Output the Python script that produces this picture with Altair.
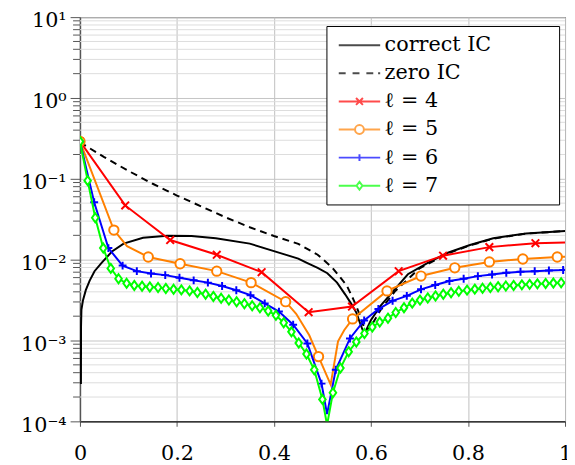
import altair as alt
import pandas as pd

SERIES = ["correct IC", "zero IC", "ℓ = 4", "ℓ = 5", "ℓ = 6", "ℓ = 7"]
COLORS = ["#000000", "#000000", "#ff0000", "#ff8000", "#0000ff", "#00ff00"]

CORRECT_X = [0.002, 0.0022, 0.003, 0.006, 0.012, 0.02, 0.03, 0.045, 0.066, 0.09, 0.13, 0.18, 0.23,
             0.28, 0.35, 0.42, 0.45, 0.47, 0.49, 0.51, 0.53, 0.547, 0.56, 0.57, 0.578, 0.586,
             0.6, 0.62, 0.649, 0.676, 0.717, 0.757, 0.804, 0.852, 0.92, 1.0]
CORRECT_Y = [0.00029, 0.0015, 0.0024, 0.0031, 0.0042, 0.0055, 0.0072, 0.0092, 0.0126, 0.0158,
             0.0187, 0.0198, 0.0196, 0.0184, 0.0158, 0.0117, 0.0103, 0.0090, 0.0079, 0.0068,
             0.0052, 0.0037, 0.0028, 0.0022, 0.0016, 0.0012, 0.0018, 0.0027, 0.0043, 0.0066,
             0.0091, 0.0121, 0.0152, 0.0184, 0.0211, 0.0226]

ZERO_X = [0.0, 0.05, 0.1, 0.15, 0.2, 0.25, 0.3, 0.35, 0.4, 0.45, 0.49, 0.52, 0.55, 0.565,
          0.578, 0.588, 0.6, 0.62, 0.65, 0.7, 0.757, 0.804, 0.852, 0.92, 1.0]
ZERO_Y = [0.2825, 0.1854, 0.1253, 0.0869, 0.0621, 0.0456, 0.0334, 0.0252, 0.0196, 0.0157,
          0.0115, 0.0080, 0.0048, 0.0031, 0.0020, 0.0013, 0.0015, 0.0024, 0.0041, 0.0078,
          0.0119, 0.0150, 0.0182, 0.0210, 0.0226]

L4_X = [0.0, 0.0933, 0.186, 0.282, 0.3745, 0.4714, 0.5608, 0.657, 0.7485, 0.844, 0.939]
L4_Y = [0.29, 0.0469, 0.0175, 0.0115, 0.0070, 0.00224, 0.00263, 0.00721, 0.0112, 0.0143, 0.0160]
L4_LINE_X = [1.0]
L4_LINE_Y = [0.0163]

L5_X = [0.0, 0.0699, 0.1408, 0.2065, 0.282, 0.3528, 0.424, 0.4918, 0.562, 0.633, 0.703,
        0.7727, 0.844, 0.913, 0.984]
L5_Y = [0.29, 0.0232, 0.0108, 0.0089, 0.00721, 0.0052, 0.00302, 0.000632, 0.00185, 0.00411,
        0.00627, 0.00793, 0.00938, 0.0102, 0.0108]
L5_LINE_X = [0.097, 0.4457, 0.4727, 0.5168, 0.532, 0.545, 1.0]
L5_LINE_Y = [0.0147, 0.00214, 0.00116, 0.000285, 0.00098, 0.00135, 0.0109]

L6_X = [0.0, 0.0293, 0.0586, 0.0879, 0.1172, 0.1465, 0.1758, 0.2051, 0.2344, 0.2637, 0.293,
        0.3223, 0.3516, 0.3809, 0.4102, 0.4395, 0.4688, 0.498, 0.5273, 0.5566, 0.5859, 0.6152,
        0.6445, 0.6738, 0.7031, 0.7324, 0.7617, 0.791, 0.8203, 0.8496, 0.8789, 0.9082, 0.9375,
        0.9668, 0.9961]
L6_Y = [0.29, 0.0514, 0.0139, 0.00845, 0.00721, 0.00675, 0.00644, 0.00598, 0.00555, 0.0052,
        0.00473, 0.00419, 0.00364, 0.00288, 0.00228, 0.00157, 0.00092, 0.000293, 0.000435,
        0.00106, 0.00177, 0.00245, 0.0031, 0.00357, 0.0043, 0.00486, 0.00545, 0.0058, 0.00626,
        0.00656, 0.00687, 0.00708, 0.00721, 0.00734, 0.00745]
L6_LINE_X = [0.5094, 1.0]
L6_LINE_Y = [0.000123, 0.0075]

L7_X = [0.0, 0.0158, 0.0315, 0.048, 0.0635, 0.0795, 0.0962, 0.112, 0.128, 0.144, 0.161, 0.177,
        0.193, 0.209, 0.226, 0.242, 0.259, 0.275, 0.291, 0.307, 0.323, 0.339, 0.355, 0.371,
        0.388, 0.404, 0.420, 0.436, 0.451, 0.467, 0.483, 0.4998, 0.5215, 0.537, 0.554, 0.5697,
        0.5865, 0.6027, 0.618, 0.635, 0.651, 0.668, 0.685, 0.701, 0.717, 0.733, 0.749, 0.765,
        0.781, 0.798, 0.814, 0.83, 0.846, 0.862, 0.878, 0.894, 0.911, 0.927, 0.943, 0.96,
        0.976, 0.992]
L7_Y = [0.29, 0.095, 0.033, 0.0139, 0.0078, 0.0058, 0.0051, 0.0048, 0.0047, 0.0046, 0.00452,
        0.0044, 0.0043, 0.00423, 0.00411, 0.00393, 0.00374, 0.00351, 0.00333, 0.00317, 0.00301,
        0.00285, 0.00269, 0.00254, 0.00232, 0.00205, 0.00166, 0.00128, 0.00093, 0.00068,
        0.000435, 0.000187, 0.000226, 0.000456, 0.000728, 0.00096, 0.00122, 0.00147, 0.00169,
        0.00189, 0.00222, 0.00255, 0.0029, 0.00316, 0.00336, 0.00356, 0.00374, 0.0039,
        0.00406, 0.0042, 0.00432, 0.00443, 0.00453, 0.00463, 0.00472, 0.0048, 0.00488, 0.00495,
        0.00502, 0.00508, 0.00513, 0.00518]
L7_LINE_X = [0.5094, 1.0]
L7_LINE_Y = [0.00009, 0.0052]

X_TICKS = [0, 0.2, 0.4, 0.6, 0.8, 1]
X_LABELS = ["0", "0.2", "0.4", "0.6", "0.8", "1"]
Y_EXPONENTS = [-4, -3, -2, -1, 0, 1]
Y_LABELS = ["10⁻⁴", "10⁻³", "10⁻²", "10⁻¹", "10⁰", "10¹"]
Y_TICKS = [10.0 ** e for e in Y_EXPONENTS]
Y_MINOR = [m * 10.0 ** e for e in Y_EXPONENTS[:-1] for m in range(2, 10)]

FONT = "DejaVu Serif"
FS = 21

# ---- scales and axes ----
XS = alt.Scale(domain=[0, 1], nice=False, zero=False)
YS = alt.Scale(type="log", domain=[1e-4, 10], nice=False)

x_expr = " : ".join(f"datum.value == {v} ? '{l}'" for v, l in zip(X_TICKS, X_LABELS)) + " : ''"
y_expr = " : ".join(f"round(log(datum.value)/LN10) == {e} ? '{l}'"
                    for e, l in zip(Y_EXPONENTS, Y_LABELS)) + " : ''"

XAX = alt.Axis(values=X_TICKS, labelExpr=x_expr, title=None, tickSize=5, tickColor="#555555",
               grid=True, gridColor="#bfbfbf", gridWidth=1, domainColor="#000000",
               labelFont=FONT, labelFontSize=FS, labelColor="black", labelPadding=17,
               labelFlush=False, labelOverlap=False)
YAX = alt.Axis(values=Y_TICKS, labelExpr=y_expr, title=None, tickSize=10, tickColor="#555555",
               grid=True, gridColor="#c4c4c4", gridWidth=1, domainColor="#555555",
               domainWidth=1.5, labelFont=FONT, labelFontSize=FS, labelColor="black",
               labelPadding=4, labelOffset=4, labelFlush=False, labelOverlap=False)


def xy(chart):
    return chart.encode(x=alt.X("x:Q", scale=XS, axis=XAX), y=alt.Y("y:Q", scale=YS, axis=YAX))


def line_frame(xs, ys, exs=(), eys=()):
    df = pd.DataFrame({"x": list(xs) + list(exs), "y": list(ys) + list(eys)})
    return df.sort_values("x").reset_index(drop=True)


layers = []

minor_df = pd.DataFrame({"y": Y_MINOR})
layers.append(alt.Chart(minor_df).mark_rule(color="#dcdcdc", strokeWidth=1).encode(
    y=alt.Y("y:Q", scale=YS, axis=YAX)))
layers.append(alt.Chart(minor_df).mark_rule(color="#555555", strokeWidth=1).encode(
    y=alt.Y("y:Q", scale=YS, axis=YAX), x=alt.value(-7), x2=alt.value(0)))

layers.append(xy(alt.Chart(line_frame(CORRECT_X, CORRECT_Y)).mark_line(
    color="black", strokeWidth=2, clip=True)))
layers.append(xy(alt.Chart(line_frame(ZERO_X, ZERO_Y)).mark_line(
    color="black", strokeWidth=2, strokeDash=[7, 5], clip=True)))

MARKERS = [
    (L4_X, L4_Y, L4_LINE_X, L4_LINE_Y, "#ff0000", "M-1,-1L1,1M-1,1L1,-1", 60),
    (L5_X, L5_Y, L5_LINE_X, L5_LINE_Y, "#ff8000", "circle", 90),
    (L6_X, L6_Y, L6_LINE_X, L6_LINE_Y, "#0000ff", "M-1,0L1,0M0,-1L0,1", 64),
    (L7_X, L7_Y, L7_LINE_X, L7_LINE_Y, "#00ff00", "M0,-1L0.72,0L0,1L-0.72,0Z", 85),
]
for mx, my, ex, ey, col, shp, sz in MARKERS:
    layers.append(xy(alt.Chart(line_frame(mx, my, ex, ey)).mark_line(
        color=col, strokeWidth=2, clip=True)))
    layers.append(xy(alt.Chart(pd.DataFrame({"x": mx, "y": my})).mark_point(
        shape=shp, size=sz, color=col, filled=False, fill="white", strokeWidth=2,
        opacity=1, clip=True)))

LEGEND_PATHS = [
    "M-1,0L5,0",
    "M-1,0L0,0M1,0L2,0M3,0L4,0M4.7,0L5,0",
    "M-1,0L5,0M1.5,-0.5L2.5,0.5M1.5,0.5L2.5,-0.5",
    "M-1,0L1.357,0M2.643,0L5,0M2.643,0A0.643,0.643,0,1,1,1.357,0A0.643,0.643,0,1,1,2.643,0",
    "M-1,0L5,0M2,-0.5L2,0.5",
    "M-1,0L1.57,0M2.43,0L5,0M2,-0.57L2.43,0L2,0.57L1.57,0Z",
]
leg = alt.Legend(title="MMM", titleOrient="right", titleColor="rgba(0,0,0,0)",
                 titleFont=FONT, titleFontSize=18, titlePadding=0,
                 orient="none", legendX=250, legendY=9, padding=9, strokeColor="black",
                 fillColor="white", cornerRadius=0, labelFont=FONT, labelFontSize=FS,
                 labelColor="black", labelOffset=29, rowPadding=6.5, symbolSize=196,
                 symbolStrokeWidth=2, labelLimit=400)
legend_df = pd.DataFrame({"series": SERIES, "x": [0.5] * 6, "y": [1e-6] * 6})
layers.append(alt.Chart(legend_df).mark_point(size=196, filled=False, strokeWidth=2,
                                              clip=True).encode(
    x=alt.X("x:Q", scale=XS, axis=XAX),
    y=alt.Y("y:Q", scale=YS, axis=YAX),
    color=alt.Color("series:N", scale=alt.Scale(domain=SERIES, range=COLORS), legend=leg),
    shape=alt.Shape("series:N", scale=alt.Scale(domain=SERIES, range=LEGEND_PATHS), legend=leg),
))

chart = alt.layer(*layers).properties(
    width=492, height=410,
    autosize=alt.AutoSizeParams(type="none"),
    padding={"left": 73, "top": 6, "right": 2, "bottom": 41},
).configure(font=FONT).configure_view(stroke="black", strokeWidth=1)

chart.save("out.html", embed_options={"renderer": "svg", "actions": False})
